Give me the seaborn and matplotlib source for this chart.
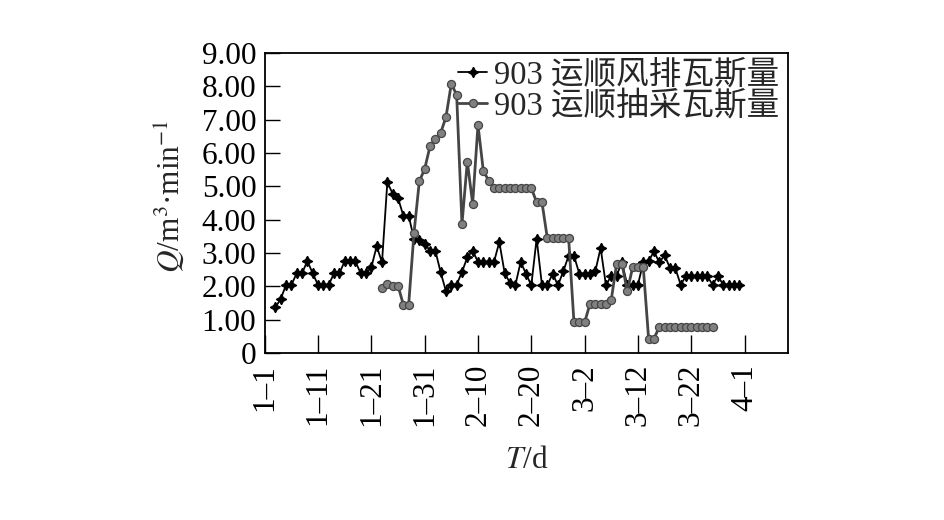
import numpy as np
import pandas as pd
import matplotlib
matplotlib.use("Agg")
import matplotlib.pyplot as plt
import seaborn as sns

# Data: one sample per day, days counted from 1-1
first_day = 2          # first ventilation sample (1-3)
vent_gas = [1.37, 1.62, 2.04, 2.04, 2.39, 2.39, 2.76, 2.39, 2.04, 2.04,
            2.04, 2.39, 2.39, 2.75, 2.75, 2.75, 2.39, 2.39, 2.57, 3.20,
            2.72, 5.12, 4.78, 4.65, 4.12, 4.12, 3.42, 3.40, 3.28, 3.07,
            3.07, 2.42, 1.85, 2.05, 2.05, 2.43, 2.87, 3.07, 2.73, 2.73,
            2.73, 2.73, 3.33, 2.40, 2.10, 2.03, 2.73, 2.38, 2.03, 3.43,
            2.03, 2.03, 2.38, 2.03, 2.45, 2.92, 2.92, 2.38, 2.38, 2.38,
            2.45, 3.15, 2.03, 2.32, 2.32, 2.73, 2.03, 2.03, 2.05, 2.72,
            2.75, 3.05, 2.72, 2.93, 2.55, 2.55, 2.05, 2.30, 2.30, 2.30,
            2.30, 2.30, 2.05, 2.30, 2.05, 2.05, 2.05, 2.05]
drain_first_day = 22   # drainage record begins on 1-23
drain_gas = [1.95, 2.08, 2.02, 2.02, 1.45, 1.45, 3.60, 5.15, 5.52, 6.20,
             6.42, 6.60, 7.08, 8.08, 7.74, 3.87, 5.74, 4.48, 6.84, 5.47,
             5.17, 4.95, 4.95, 4.95, 4.95, 4.95, 4.95, 4.95, 4.95, 4.52,
             4.52, 3.45, 3.45, 3.45, 3.45, 3.45, 0.92, 0.92, 0.92, 1.47,
             1.47, 1.47, 1.47, 1.60, 2.68, 2.68, 1.85, 2.57, 2.57, 2.57,
             0.43, 0.43, 0.78, 0.78, 0.78, 0.78, 0.78, 0.78, 0.78, 0.78,
             0.78, 0.78, 0.78]
labels = ["903 运顺风排瓦斯量", "903 运顺抽采瓦斯量"]
x_ticks = [0, 10, 20, 30, 40, 50, 60, 70, 80, 90]
x_ticklabels = ["1–1", "1–11", "1–21", "1–31", "2–10", "2–20",
                "3–2", "3–12", "3–22", "4–1"]
y_ticks = [0, 1, 2, 3, 4, 5, 6, 7, 8, 9]
y_ticklabels = ["0", "1.00", "2.00", "3.00", "4.00", "5.00",
                "6.00", "7.00", "8.00", "9.00"]

df_vent = pd.DataFrame({"day": first_day + np.arange(len(vent_gas)), "Q": vent_gas})
df_drain = pd.DataFrame({"day": drain_first_day + np.arange(len(drain_gas)), "Q": drain_gas})

sns.set_style("ticks")
plt.rcParams["font.family"] = ["Liberation Serif", "Noto Sans CJK SC"]
plt.rcParams["mathtext.fontset"] = "stix"
fs = 22.5

fig = plt.figure(figsize=(9.45, 5.2), dpi=100)
ax = fig.add_axes([0.2801, 0.3212, 0.5541, 0.5769])

sns.lineplot(data=df_vent, x="day", y="Q", ax=ax, color="black", lw=1.3,
             marker=(4, 1, 0), markersize=7.5, markeredgewidth=0.9,
             markerfacecolor="black", markeredgecolor="black", label=labels[0])
sns.lineplot(data=df_drain, x="day", y="Q", ax=ax, color="#454545", lw=2.0,
             marker="o", markersize=5.8, markerfacecolor="#808080",
             markeredgecolor="#454545", markeredgewidth=0.9,
             solid_joinstyle="miter", label=labels[1])

ax.set_xlim(0, 98.2)
ax.set_ylim(0, 9)
ax.set_xticks(x_ticks)
ax.set_xticklabels(x_ticklabels, rotation=90, fontsize=fs)
ax.set_yticks(y_ticks)
ax.set_yticklabels(y_ticklabels, fontsize=fs)
ax.tick_params(axis="x", direction="in", length=13, width=1, pad=8, colors="black")
ax.tick_params(axis="y", direction="in", length=11, width=1, pad=6, colors="black")
for s in ax.spines.values():
    s.set_linewidth(1.3)
    s.set_color("black")

ax.set_xlabel(r"$T$/d", fontsize=fs)
ax.set_ylabel(r"$Q$/m$^3$·min$^{-1}$", fontsize=fs)
ax.xaxis.set_label_coords(0.5, -0.31)
ax.yaxis.set_label_coords(-0.148, 0.523)

ax.legend(loc="upper right", bbox_to_anchor=(0.996, 1.0), frameon=False,
          fontsize=23.5, borderaxespad=0, borderpad=0.22, labelspacing=0.0,
          handlelength=0.9, handletextpad=0.2)

fig.savefig("out.png", dpi=100, facecolor="white")
